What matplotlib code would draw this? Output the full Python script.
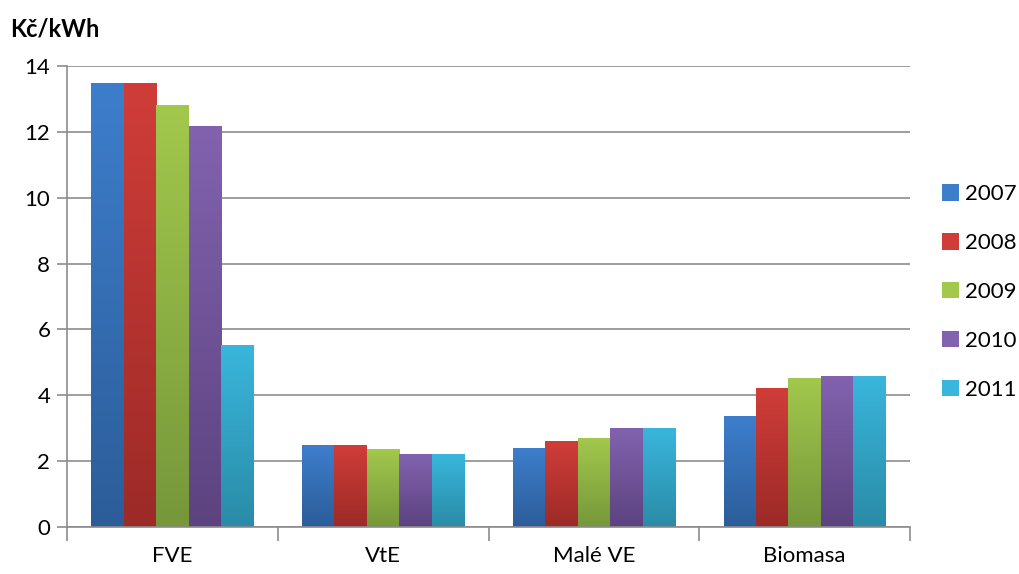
import numpy as np
import matplotlib
matplotlib.use("Agg")
import matplotlib.pyplot as plt
from matplotlib.colors import LinearSegmentedColormap
from matplotlib.patches import Patch

plt.rcParams['font.family'] = ['Lato', 'DejaVu Sans']

categories = ["FVE", "VtE", "Malé VE", "Biomasa"]
years = ["2007", "2008", "2009", "2010", "2011"]
values = {
    "2007": [13.46, 2.46, 2.38, 3.37],
    "2008": [13.46, 2.46, 2.60, 4.20],
    "2009": [12.79, 2.34, 2.70, 4.50],
    "2010": [12.15, 2.21, 3.00, 4.58],
    "2011": [5.50, 2.21, 3.00, 4.58],
}
y_ticks = [0, 2, 4, 6, 8, 10, 12, 14]

# (top colour, bottom colour) for the vertical gradient of each series
shades = {
    "2007": ("#3D7ECC", "#2C5D99"),
    "2008": ("#D03D39", "#9C2A27"),
    "2009": ("#A2C84C", "#76973A"),
    "2010": ("#8262AF", "#5C437F"),
    "2011": ("#39B6DC", "#2A8BA7"),
}

fig = plt.figure(figsize=(10.19, 5.74), dpi=100)
ax = fig.add_axes([67 / 1019, 1 - 527 / 574, (910 - 67) / 1019, (527 - 66) / 574])

n = len(years)
x = np.arange(len(categories))
group = 5 / 6.5
w = group / n

for i, yr in enumerate(years):
    offs = x - group / 2 + w * (i + 0.5)
    bars = ax.bar(offs, values[yr], width=w, color=shades[yr][1], zorder=3,
                  linewidth=0)
    cmap = LinearSegmentedColormap.from_list(yr, [shades[yr][1], shades[yr][0]])
    grad = np.linspace(0, 1, 256).reshape(-1, 1)
    for b in bars:
        x0, y0 = b.get_x(), b.get_y()
        ax.imshow(grad, cmap=cmap, origin="lower", aspect="auto",
                  extent=(x0, x0 + b.get_width(), y0, y0 + b.get_height()),
                  zorder=4, interpolation="bilinear")

ax.set_xlim(-0.5, len(categories) - 0.5)
ax.set_ylim(0, 14)

# grid and axes styling
ax.set_yticks(y_ticks)
ax.yaxis.grid(True, color="#8C8C8C", linewidth=1.2, zorder=1)
ax.set_axisbelow(True)
for s in ["top", "right"]:
    ax.spines[s].set_visible(False)
ax.spines["left"].set_color("#8C8C8C")
ax.spines["left"].set_linewidth(1.2)
ax.spines["bottom"].set_color("#8C8C8C")
ax.spines["bottom"].set_linewidth(1.2)
ax.spines["bottom"].set_zorder(5)

ax.tick_params(axis="y", length=7, width=1.2, color="#8C8C8C", labelsize=16, pad=5)
ax.set_xticks(x)
ax.set_xticklabels(categories)
ax.set_xticks(np.arange(-0.5, len(categories)), minor=True)
ax.tick_params(axis="x", which="major", length=0, labelsize=16, pad=14)
ax.tick_params(axis="x", which="minor", length=10, width=1.2, color="#8C8C8C")

fig.text(10 / 1019, 1 - 29 / 574, "Kč/kWh", fontsize=17, fontweight="bold",
         va="center", ha="left")

handles = [Patch(facecolor=shades[yr][0], edgecolor="none") for yr in years]
fig.legend(handles, years, loc="center left",
           bbox_to_anchor=(942 / 1019, 1 - 292 / 574), frameon=False,
           borderpad=0, borderaxespad=0,
           fontsize=16, handlelength=0.75, handleheight=0.75,
           handletextpad=0.3, labelspacing=1.3)

fig.savefig("out.png", dpi=100)
